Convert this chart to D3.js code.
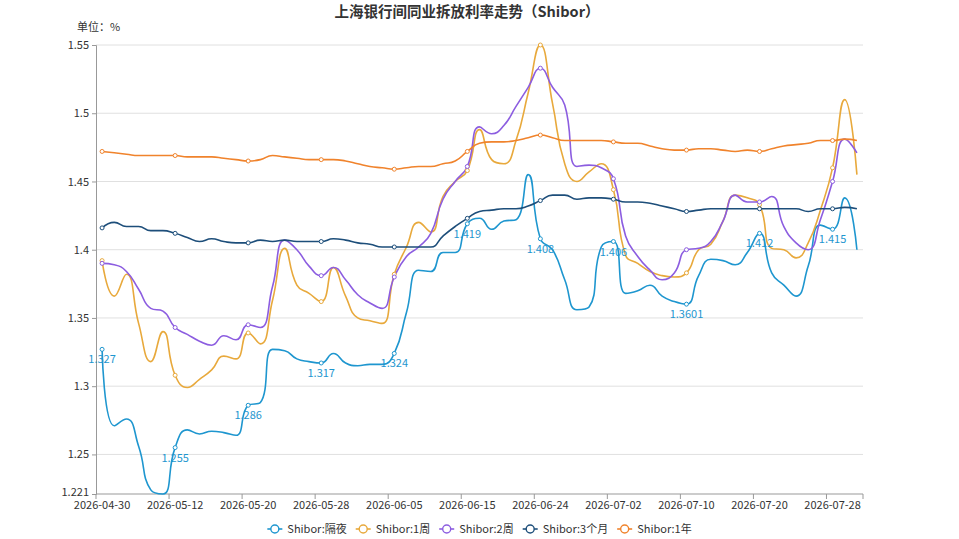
<!DOCTYPE html>
<html>
<head>
<meta charset="utf-8">
<script src="https://cdn.jsdelivr.net/npm/d3@7"></script>
<style>
  body { margin: 0; background: #fff; }
  svg { font-family: 'Microsoft YaHei', 'Noto Sans CJK SC', sans-serif; }
</style>
</head>
<body>
<div id="chart"></div>
<script>
const width = 959
const height = 539
const margin = { top: 45, left: 96, right: 96, bottom: 45 }

const title = '上海银行间同业拆放利率走势（Shibor）'
const unitLabel = '单位：%'

const dates = [
  '2026-04-30', '2026-05-06', '2026-05-07', '2026-05-08', '2026-05-09', '2026-05-11',
  '2026-05-12', '2026-05-13', '2026-05-14', '2026-05-15', '2026-05-18', '2026-05-19',
  '2026-05-20', '2026-05-21', '2026-05-22', '2026-05-25', '2026-05-26', '2026-05-27',
  '2026-05-28', '2026-05-29', '2026-06-01', '2026-06-02', '2026-06-03', '2026-06-04',
  '2026-06-05', '2026-06-08', '2026-06-09', '2026-06-10', '2026-06-11', '2026-06-12',
  '2026-06-15', '2026-06-16', '2026-06-17', '2026-06-18', '2026-06-22', '2026-06-23',
  '2026-06-24', '2026-06-25', '2026-06-26', '2026-06-29', '2026-06-30', '2026-07-01',
  '2026-07-02', '2026-07-03', '2026-07-06', '2026-07-07', '2026-07-08', '2026-07-09',
  '2026-07-10', '2026-07-13', '2026-07-14', '2026-07-15', '2026-07-16', '2026-07-17',
  '2026-07-20', '2026-07-21', '2026-07-22', '2026-07-23', '2026-07-24', '2026-07-27',
  '2026-07-28', '2026-07-29', '2026-07-30'
]

const overnight = [
  1.327, 1.271, 1.276, 1.256, 1.224, 1.221, 1.255, 1.268, 1.265, 1.267, 1.266, 1.264,
  1.286, 1.288, 1.327, 1.326, 1.320, 1.318, 1.317, 1.324, 1.317, 1.315, 1.316, 1.316,
  1.324, 1.354, 1.385, 1.384, 1.398, 1.398, 1.419, 1.423, 1.415, 1.421, 1.422, 1.455,
  1.408, 1.400, 1.378, 1.356, 1.358, 1.402, 1.406, 1.368, 1.370, 1.374, 1.366, 1.362,
  1.3601, 1.381, 1.393, 1.392, 1.389, 1.398, 1.412, 1.383, 1.374, 1.366, 1.388, 1.418,
  1.415, 1.438, 1.400
]

const week1 = [
  1.392, 1.366, 1.382, 1.346, 1.318, 1.340, 1.308, 1.299, 1.305, 1.312, 1.322, 1.320,
  1.339, 1.331, 1.363, 1.401, 1.374, 1.368, 1.362, 1.387, 1.366, 1.350, 1.348, 1.346,
  1.382, 1.402, 1.420, 1.413, 1.439, 1.450, 1.458, 1.488, 1.466, 1.463, 1.480, 1.515,
  1.550, 1.507, 1.463, 1.450, 1.457, 1.463, 1.444, 1.396, 1.390, 1.384, 1.381, 1.380,
  1.383, 1.400, 1.404, 1.421, 1.440, 1.438, 1.433, 1.401, 1.400, 1.394, 1.405, 1.429,
  1.460, 1.510, 1.455
]

const week2 = [
  1.390, 1.389, 1.384, 1.371, 1.357, 1.355, 1.343, 1.338, 1.333, 1.330, 1.337, 1.334,
  1.345, 1.343, 1.373, 1.407, 1.400, 1.388, 1.381, 1.387, 1.378, 1.367, 1.361, 1.357,
  1.380, 1.395, 1.402, 1.412, 1.437, 1.450, 1.461, 1.490, 1.485, 1.491, 1.505, 1.519,
  1.533, 1.519, 1.506, 1.461, 1.462, 1.460, 1.452, 1.410, 1.395, 1.385, 1.378, 1.383,
  1.400, 1.401, 1.406, 1.421, 1.440, 1.435, 1.435, 1.439, 1.417, 1.405, 1.400, 1.422,
  1.450, 1.481, 1.471
]

const month3 = [
  1.416, 1.420, 1.417, 1.417, 1.414, 1.414, 1.412, 1.409, 1.406, 1.408, 1.406, 1.405,
  1.405, 1.407, 1.406, 1.407, 1.406, 1.406, 1.406, 1.408, 1.407, 1.405, 1.404, 1.402,
  1.402, 1.402, 1.402, 1.402, 1.410, 1.417, 1.423, 1.428, 1.429, 1.430, 1.430, 1.432,
  1.436, 1.440, 1.440, 1.437, 1.438, 1.438, 1.437, 1.435, 1.435, 1.434, 1.432, 1.430,
  1.428, 1.429, 1.430, 1.430, 1.430, 1.430, 1.430, 1.430, 1.430, 1.430, 1.428, 1.430,
  1.430, 1.431, 1.430
]

const year1 = [
  1.472, 1.471, 1.470, 1.469, 1.469, 1.469, 1.469, 1.468, 1.468, 1.468, 1.467, 1.466,
  1.465, 1.466, 1.469, 1.468, 1.467, 1.466, 1.466, 1.466, 1.465, 1.463, 1.461, 1.460,
  1.459, 1.460, 1.461, 1.461, 1.463, 1.465, 1.472, 1.478, 1.479, 1.479, 1.480, 1.482,
  1.484, 1.482, 1.480, 1.480, 1.480, 1.480, 1.479, 1.478, 1.478, 1.476, 1.474, 1.473,
  1.473, 1.474, 1.474, 1.473, 1.472, 1.473, 1.472, 1.474, 1.476, 1.477, 1.478, 1.480,
  1.480, 1.481, 1.480
]

const seriesNames = ['Shibor:隔夜', 'Shibor:1周', 'Shibor:2周', 'Shibor:3个月', 'Shibor:1年']
const seriesColors = ['#1e96cf', '#e8a93c', '#8c5de0', '#1d4e7a', '#f0832c']
const yTicks = [1.221, 1.25, 1.3, 1.35, 1.4, 1.45, 1.5, 1.55]

const series = [overnight, week1, week2, month3, year1].map((values, k) => ({
  name: seriesNames[k],
  color: seriesColors[k],
  values
}))

// label / symbol every 6th category, like the axis labels
const labelEvery = 6

const svg = d3
  .select('#chart')
  .append('svg')
  .attr('width', width)
  .attr('height', height)

const xScale = d3
  .scalePoint()
  .domain(dates)
  .range([margin.left, width - margin.right])
  .padding(0.5)
const step = xScale.step()

const allValues = series.flatMap(s => s.values)
const yScale = d3
  .scaleLinear()
  .domain([d3.min(allValues), d3.max(allValues)])
  .range([height - margin.bottom, margin.top])

// echarts-style smooth line (smooth = 0.5, clamped control points)
function SmoothCurve(context) {
  this._context = context
}
SmoothCurve.prototype = {
  areaStart() {},
  areaEnd() {},
  lineStart() {
    this._pts = []
  },
  point(x, y) {
    this._pts.push([+x, +y])
  },
  lineEnd() {
    const p = this._pts
    const c = this._context
    const s = 0.5
    const clamp = (v, a, b) => Math.max(Math.min(a, b), Math.min(v, Math.max(a, b)))
    let cp0x, cp0y
    p.forEach(([x, y], i) => {
      if (i === 0) {
        c.moveTo(x, y)
        cp0x = x
        cp0y = y
        return
      }
      const [px, py] = p[i - 1]
      let cp1x = x
      let cp1y = y
      let ncx = x
      let ncy = y
      if (i < p.length - 1) {
        const [nx, ny] = p[i + 1]
        const l0 = Math.hypot(x - px, y - py)
        const l1 = Math.hypot(nx - x, ny - y)
        const r = l1 / (l0 + l1)
        ncx = clamp(x + (nx - px) * s * r, nx, x)
        ncy = clamp(y + (ny - py) * s * r, ny, y)
        cp1x = clamp(x - (ncx - x) * l0 / l1, px, x)
        cp1y = clamp(y - (ncy - y) * l0 / l1, py, y)
        ncx = x + (x - cp1x) * l1 / l0
        ncy = y + (y - cp1y) * l1 / l0
      }
      c.bezierCurveTo(cp0x, cp0y, cp1x, cp1y, x, y)
      cp0x = ncx
      cp0y = ncy
    })
  }
}
const curveSmooth = context => new SmoothCurve(context)

// title
svg
  .append('text')
  .attr('x', 467)
  .attr('y', 17)
  .attr('text-anchor', 'middle')
  .attr('font-size', 14.5)
  .attr('font-weight', 'bold')
  .attr('fill', '#333')
  .text(title)

svg
  .append('text')
  .attr('x', 77)
  .attr('y', 31)
  .attr('font-size', 11)
  .attr('fill', '#333')
  .text(unitLabel)

// grid lines
svg
  .append('g')
  .selectAll('line')
  .data(yTicks.slice(1))
  .enter()
  .append('line')
  .attr('x1', margin.left)
  .attr('x2', width - margin.right)
  .attr('y1', d => yScale(d))
  .attr('y2', d => yScale(d))
  .attr('stroke', '#e0e0e0')

// y axis
const yAxis = svg
  .append('g')
  .attr('transform', `translate(${margin.left},0)`)
  .call(
    d3
      .axisLeft(yScale)
      .tickValues(yTicks)
      .tickSize(4)
      .tickPadding(3)
      .tickFormat(d => String(+d.toFixed(4)))
  )
yAxis.attr('font-family', null)
yAxis.select('.domain').attr('stroke', '#999')
yAxis.selectAll('.tick line').attr('stroke', '#999')
yAxis
  .selectAll('.tick text')
  .attr('fill', '#333')
  .attr('font-size', 11)
// min label sits a little higher so it clears the date labels
yAxis
  .selectAll('.tick text')
  .filter(d => d === yTicks[0])
  .attr('dy', '0.1em')

// x axis: ticks on category boundaries, labels on categories
const labelDates = dates.filter((d, i) => i % labelEvery === 0)
const xAxis = svg
  .append('g')
  .attr('transform', `translate(0,${height - margin.bottom})`)
xAxis
  .append('line')
  .attr('x1', margin.left)
  .attr('x2', width - margin.right)
  .attr('stroke', '#999')
xAxis
  .selectAll('.xtick')
  .data(labelDates.map(d => xScale(d) - step / 2).concat([width - margin.right]))
  .enter()
  .append('line')
  .attr('class', 'xtick')
  .attr('x1', d => d)
  .attr('x2', d => d)
  .attr('y1', 0)
  .attr('y2', 5)
  .attr('stroke', '#999')
xAxis
  .selectAll('.xlabel')
  .data(labelDates)
  .enter()
  .append('text')
  .attr('class', 'xlabel')
  .attr('x', d => xScale(d))
  .attr('y', 15)
  .attr('text-anchor', 'middle')
  .attr('font-size', 11)
  .attr('fill', '#333')
  .text(d => d)

// lines
const line = d3
  .line()
  .x((d, i) => xScale(dates[i]))
  .y(d => yScale(d))
  .curve(curveSmooth)

const plot = svg.append('g')

series.forEach(s => {
  plot
    .append('path')
    .datum(s.values)
    .attr('d', line)
    .attr('fill', 'none')
    .attr('stroke', s.color)
    .attr('stroke-width', 1.6)
})

// symbols on every labelled category
series.forEach((s, k) => {
  const shown = s.values
    .map((v, i) => ({ v, i }))
    .filter(d => d.i % labelEvery === 0)
  plot
    .append('g')
    .selectAll('circle')
    .data(shown)
    .enter()
    .append('circle')
    .attr('cx', d => xScale(dates[d.i]))
    .attr('cy', d => yScale(d.v))
    .attr('r', 2)
    .attr('fill', '#fff')
    .attr('stroke', s.color)
    .attr('stroke-width', 1)

  if (k === 0) {
    plot
      .append('g')
      .selectAll('text')
      .data(shown)
      .enter()
      .append('text')
      .attr('x', d => xScale(dates[d.i]))
      .attr('y', d => yScale(d.v) + 14)
      .attr('text-anchor', 'middle')
      .attr('font-size', 11)
      .attr('fill', s.color)
      .text(d => d.v)
  }
})

// legend
const legend = svg.append('g').attr('transform', `translate(0,${height - 10})`)
const items = legend
  .selectAll('g')
  .data(series)
  .enter()
  .append('g')

items
  .append('line')
  .attr('x1', 0)
  .attr('x2', 15)
  .attr('stroke', d => d.color)
  .attr('stroke-width', 1.6)
items
  .append('circle')
  .attr('cx', 7.5)
  .attr('r', 4)
  .attr('fill', '#fff')
  .attr('stroke', d => d.color)
  .attr('stroke-width', 1.4)
items
  .append('text')
  .attr('x', 20)
  .attr('dy', '0.35em')
  .attr('font-size', 11)
  .attr('fill', '#333')
  .text(d => d.name)

const widths = items.nodes().map(n => 20 + d3.select(n).select('text').node().getComputedTextLength())
const gap = 9
const total = d3.sum(widths) + gap * (widths.length - 1)
let cursor = width / 2 - total / 2
items.attr('transform', (d, i) => {
  const x = cursor
  cursor += widths[i] + gap
  return `translate(${x},0)`
})
</script>
</body>
</html>
